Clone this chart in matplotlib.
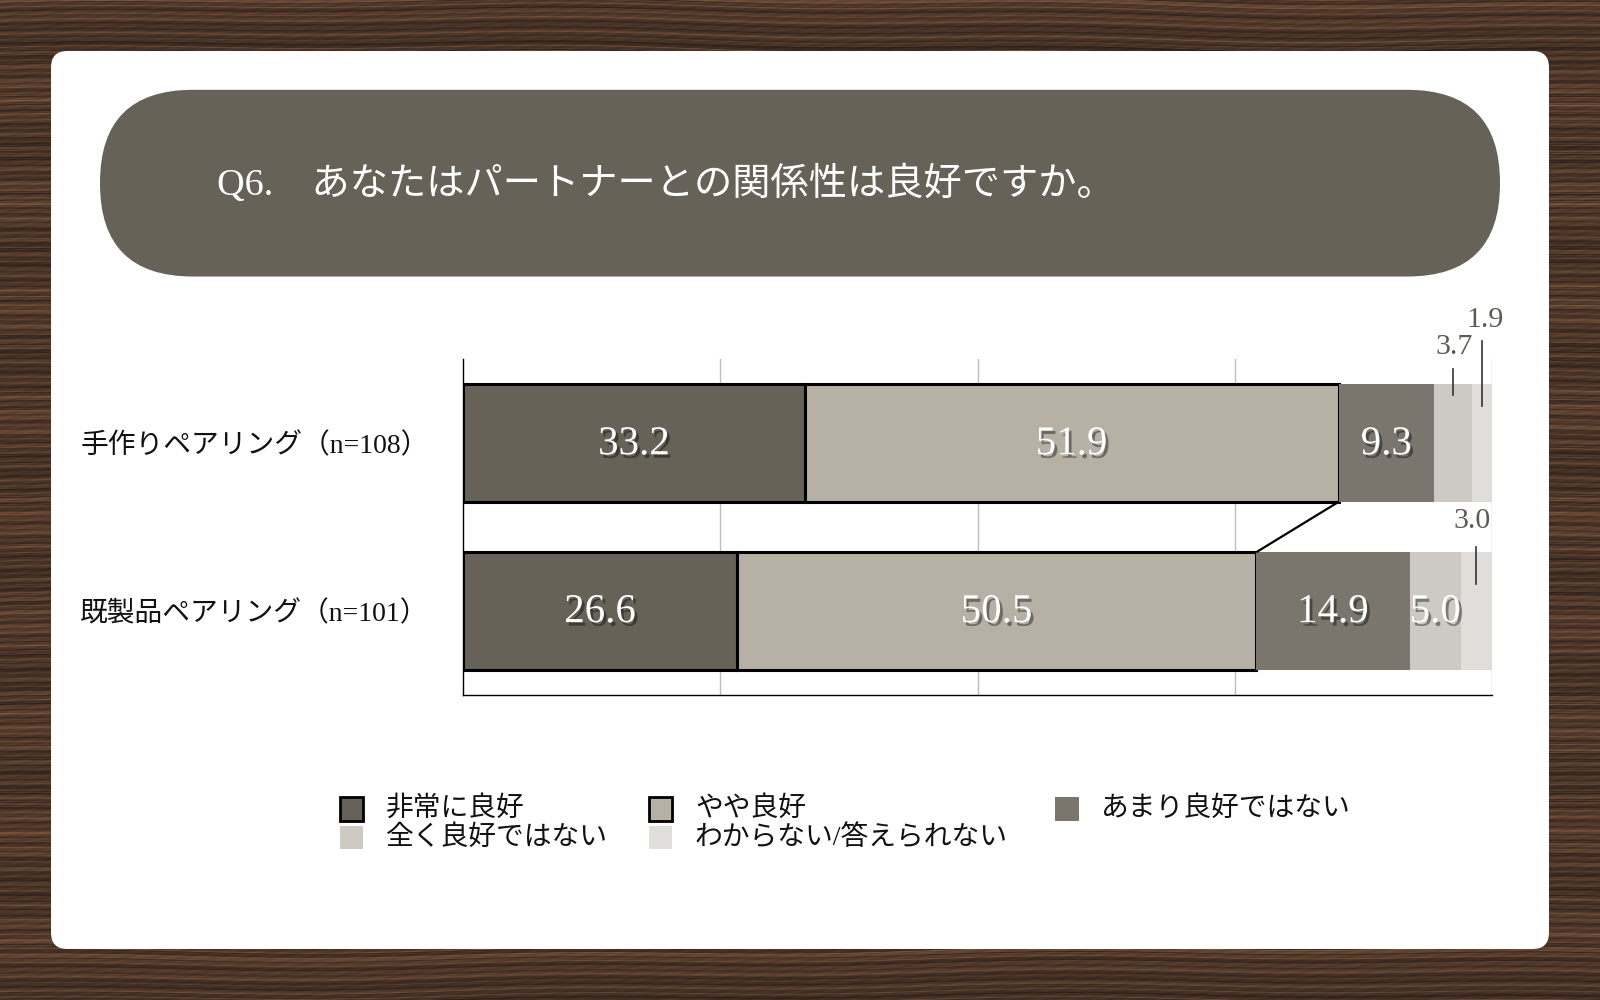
import numpy as np
import matplotlib
matplotlib.use("Agg")
import matplotlib.pyplot as plt
from matplotlib.patches import FancyBboxPatch, Rectangle
import matplotlib.patheffects as pe

plt.rcParams['font.family'] = ['Liberation Serif', 'Noto Sans CJK JP', 'DejaVu Sans']

# ---------------- data ----------------
title = "Q6.　あなたはパートナーとの関係性は良好ですか。"
categories = ["手作りペアリング（n=108）", "既製品ペアリング（n=101）"]
series_names = ["非常に良好", "やや良好", "あまり良好ではない", "全く良好ではない", "わからない/答えられない"]
handmade = [33.2, 51.9, 9.3, 3.7, 1.9]
readymade = [26.6, 50.5, 14.9, 5.0, 3.0]
colors = ["#666257", "#b7b0a5", "#7a756d", "#cdcac3", "#dfdedb"]
outlined = [True, True, False, False, False]

values = np.array([handmade, readymade])

# ---------------- figure / background ----------------
W, H = 1568, 980   # layout frame (scaled to 1600x1000 output)
fig = plt.figure(figsize=(16, 10), dpi=100)
bg = fig.add_axes([0, 0, 1, 1])
bg.set_xlim(0, W)
bg.set_ylim(H, 0)
bg.axis('off')

# wood-like background texture (decorative only)
yy, xx = np.mgrid[0:H:1, 0:W:4].astype(float)
warp = 4.0 * np.sin(xx * 0.0031 + yy * 0.011) + 2.0 * np.sin(xx * 0.013 + 0.7)
yw = yy + warp
t = (0.45 + 0.16 * np.sin(yw * 0.93) + 0.12 * np.sin(yw * 2.31 + 1.3)
     + 0.10 * np.sin(yw * 0.377 + 0.4) + 0.08 * np.sin(yw * 3.71 + 2.2)
     + 0.07 * np.sin(yw * 0.061 + 1.9) + 0.05 * np.sin(xx * 0.21 + yy * 7.3))
t = np.clip(t, 0, 1) ** 1.4
dark = np.array([45, 32, 27]) / 255
light = np.array([140, 98, 68]) / 255
img = dark[None, None, :] * (1 - t[..., None]) + light[None, None, :] * t[..., None]
bg.imshow(img, extent=[0, W, H, 0], aspect='auto', zorder=0, interpolation='bilinear')

# white card
bg.add_patch(FancyBboxPatch((50, 50), 1468, 880, boxstyle="round,pad=0,rounding_size=16",
                            facecolor="white", edgecolor="none", zorder=1))
# title pill
bg.add_patch(FancyBboxPatch((98, 88), 1372, 183, boxstyle="round,pad=0,rounding_size=91",
                            facecolor="#666257", edgecolor="none", zorder=2))
bg.text(213, 180, title, color="white", fontsize=27.5, va="center", ha="left", zorder=3)

# ---------------- chart ----------------
ax_l, ax_r, ax_t, ax_b = 454, 1462, 352, 681
ax = fig.add_axes([ax_l / W, 1 - ax_b / H, (ax_r - ax_l) / W, (ax_b - ax_t) / H])
ax.set_facecolor("none")
ypos = np.arange(len(categories))
bar_h = 0.7
left = np.zeros(len(categories))
for i, name in enumerate(series_names):
    ax.barh(ypos, values[:, i], left=left, height=bar_h, color=colors[i],
            edgecolor="black" if outlined[i] else "none",
            linewidth=2.2 if outlined[i] else 0, zorder=3, label=name)
    left = left + values[:, i]

cum = np.cumsum(values, axis=1)
# connector line between the end of "やや良好" segments
ax.plot([cum[0, 1], cum[1, 1]], [ypos[0] + bar_h / 2, ypos[1] - bar_h / 2],
        color="black", lw=1.6, zorder=4, solid_capstyle="butt")

ax.set_xlim(0, 100)
ax.set_ylim(1.5, -0.5)
for g in [25, 50, 75, 100]:
    ax.axvline(g, color="#bdbdbd", lw=1, zorder=1)
for s in ["top", "right"]:
    ax.spines[s].set_visible(False)
ax.spines["left"].set_linewidth(1)
ax.spines["bottom"].set_linewidth(1)
ax.set_xticks([])
ax.set_yticks(ypos)
ax.set_yticklabels(categories, fontsize=20, color="#111111")
ax.tick_params(axis="y", length=0, pad=25)

shadow = [pe.withSimplePatchShadow(offset=(2, -2.5), shadow_rgbFace="black", alpha=0.4)]
small_offsets = {  # (row, series): (dx label, label y, line y0, line y1)
    (0, 3): (0.1, -0.57, -0.44, -0.285),
    (0, 4): (0.3, -0.735, -0.61, -0.22),
    (1, 4): (-0.4, 0.466, 0.62, 0.84),
}
for r in range(len(categories)):
    for i in range(len(series_names)):
        v = values[r, i]
        xc = cum[r, i] - v / 2
        if (r, i) in small_offsets:
            dx, ly, y0, y1 = small_offsets[(r, i)]
            ax.text(xc + dx, ly, f"{v:.1f}", color="#5e5a50", fontsize=21.5,
                    ha="center", va="center", zorder=6, clip_on=False)
            ax.plot([xc, xc], [y0, y1], color="#333333", lw=1.2, zorder=6, clip_on=False)
        else:
            ax.text(xc, ypos[r] + 0.01, f"{v:.1f}", color="white", fontsize=29.5,
                    ha="center", va="center", zorder=6, path_effects=shadow)

# ---------------- legend ----------------
leg_pos = [(333, 793), (636, 793), (1034, 793), (333, 821), (636, 821)]
for i, name in enumerate(series_names):
    bx, by = leg_pos[i]
    bg.add_patch(Rectangle((bx, by - 11.5), 23, 23, facecolor=colors[i],
                           edgecolor="black" if outlined[i] else "none",
                           linewidth=2 if outlined[i] else 0, zorder=5))
    bg.text(bx + 45, by, name, fontsize=20, va="center", ha="left", color="#111111", zorder=5)

fig.savefig("out.png", dpi=100)
